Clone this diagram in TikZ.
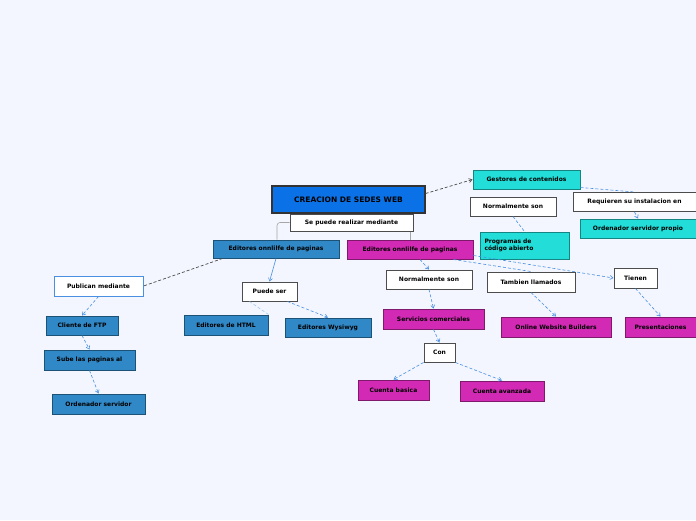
\documentclass[tikz,border=0pt]{standalone}
\usepackage{fontspec}
\setmainfont{DejaVu Sans}
\usetikzlibrary{arrows.meta}
\definecolor{bg}{HTML}{F3F6FE}
\definecolor{mainblue}{HTML}{0A72E6}
\definecolor{cyanbox}{HTML}{22DDD8}
\definecolor{bluebox}{HTML}{3188C6}
\definecolor{magbox}{HTML}{D22AB4}
\definecolor{lnk}{HTML}{4A90E2}
\tikzset{
 bx/.style={draw=#1!60!black,line width=1pt,inner sep=0pt,font=\fontsize{6}{7}\selectfont\bfseries,text=black,align=left},
 wbox/.style={bx=gray,fill=white},
 cbox/.style={bx=cyanbox,fill=cyanbox},
 bbox/.style={bx=bluebox,fill=bluebox},
 mbox/.style={bx=magbox,fill=magbox},
 dl/.style={densely dashed,draw=lnk,line width=0.6pt},
 da/.style={dl,-{Straight Barb[length=3pt,width=4pt]}},
}
\begin{document}
\begin{tikzpicture}[x=1pt,y=-1pt]
\fill[bg] (0,0) rectangle (696,520);
\useasboundingbox (0,0) rectangle (696,520);
\newcommand{\bn}[6]{\node[#1,minimum width=#4,minimum height=#5] (#6) at (#2,#3) {};}
% nodes
\node[bx=black,fill=mainblue,minimum width=153,minimum height=27,font=\fontsize{7.5}{9}\selectfont\bfseries,line width=1.2pt,draw=black!80] (main) at (348.5,199.5) {CREACION DE SEDES WEB};
\node[wbox,minimum width=123,minimum height=17] (se) at (351.5,222.5) {Se puede realizar mediante};
\node[cbox,minimum width=107,minimum height=19] (ges) at (526.5,179.5) {Gestores de contenidos};
\node[wbox,minimum width=86,minimum height=19] (nst) at (513,206.5) {Normalmente son};
\node[wbox,minimum width=123,minimum height=19] (req) at (634.5,202) {Requieren su instalacion en};
\node[cbox,minimum width=116,minimum height=19] (osp) at (638,228.5) {Ordenador servidor propio};
\node[cbox,minimum width=89,minimum height=27,text width=80] (prog) at (524.5,245.5) {Programas de\\código abierto};
\node[bbox,minimum width=126,minimum height=18] (edl) at (276,249) {Editores onnlilfe de paginas};
\node[mbox,minimum width=126,minimum height=19] (edr) at (410,249.5) {Editores onnlilfe de paginas};
\node[wbox,minimum width=86,minimum height=19] (nsm) at (429,279.5) {Normalmente son};
\node[wbox,minimum width=88,minimum height=20] (tam) at (531,282) {Tambien llamados};
\node[wbox,minimum width=43,minimum height=20] (tie) at (635.5,278) {Tienen};
\node[wbox,draw=lnk,minimum width=89,minimum height=20] (pub) at (98.5,286) {Publican mediante};
\node[wbox,minimum width=55,minimum height=19] (pue) at (269.5,291.5) {Puede ser};
\node[bbox,minimum width=72,minimum height=19] (ftp) at (82,325.5) {Cliente de FTP};
\node[bbox,minimum width=84,minimum height=20] (html) at (226,325) {Editores de HTML};
\node[bbox,minimum width=86,minimum height=19] (wys) at (328,327.5) {Editores Wysiwyg};
\node[mbox,minimum width=101,minimum height=20] (ser) at (433.5,319) {Servicios comerciales};
\node[mbox,minimum width=110,minimum height=20] (onl) at (556,327) {Online Website Builders};
\node[mbox,minimum width=71,minimum height=20] (pre) at (660.5,327) {Presentaciones};
\node[bbox,minimum width=91,minimum height=20] (sub) at (89.5,360) {Sube las paginas al};
\node[wbox,minimum width=31,minimum height=19] (con) at (439.5,352.5) {Con};
\node[bbox,minimum width=93,minimum height=20] (ord) at (98.5,404) {Ordenador servidor};
\node[mbox,minimum width=71,minimum height=20] (cb) at (393.5,390) {Cuenta basica};
\node[mbox,minimum width=84,minimum height=20] (ca) at (502,391) {Cuenta avanzada};
% connectors
\draw[densely dashed,draw=black!70,line width=0.7pt,-{Straight Barb[length=3pt,width=4pt]}] (main.east)+(0,-6) -- (ges.west);
\draw[gray!70,line width=0.6pt,rounded corners=3pt] (se.west) -| (edl.north -| 277,0);
\draw[gray!70,line width=0.6pt] (se.south -| 410,0) -- (edr.north);
\draw[densely dashed,draw=black!70,line width=0.7pt] (edl.south west)+(10,0) -- (pub.east);
\draw[lnk,line width=0.6pt,-{Straight Barb[length=3pt,width=4pt]}] (edl.south) -- (pue.north);
\draw[dl,draw=lnk!50] (pue.south west)+(8,0) -- (html.north east)+(-20,0);
\draw[da] (pue.south east)+(-10,0) -- (wys.north);
\draw[da] (pub.south) -- (ftp.north);
\draw[da] (ftp.south) -- (sub.north);
\draw[da] (sub.south) -- (ord.north);
\draw[da] (edr.south)+(10,0) -- (nsm.north);
\draw[dl] (edr.south east)+(-20,0) -- (tam.north);
\draw[da] (edr.east)+(0,6) -- (tie.west);
\draw[da] (nsm.south) -- (ser.north);
\draw[da] (ser.south) -- (con.north);
\draw[da] (con.south west) -- (cb.north);
\draw[da] (con.south east) -- (ca.north);
\draw[da] (tam.south) -- (onl.north);
\draw[da] (tie.south) -- (pre.north);
\draw[dl] (ges.south east)+(0,-2) -- (req.north);
\draw[da] (req.south) -- (osp.north);
\draw[dl] (nst.south) -- (prog.north);
\end{tikzpicture}
\end{document}
